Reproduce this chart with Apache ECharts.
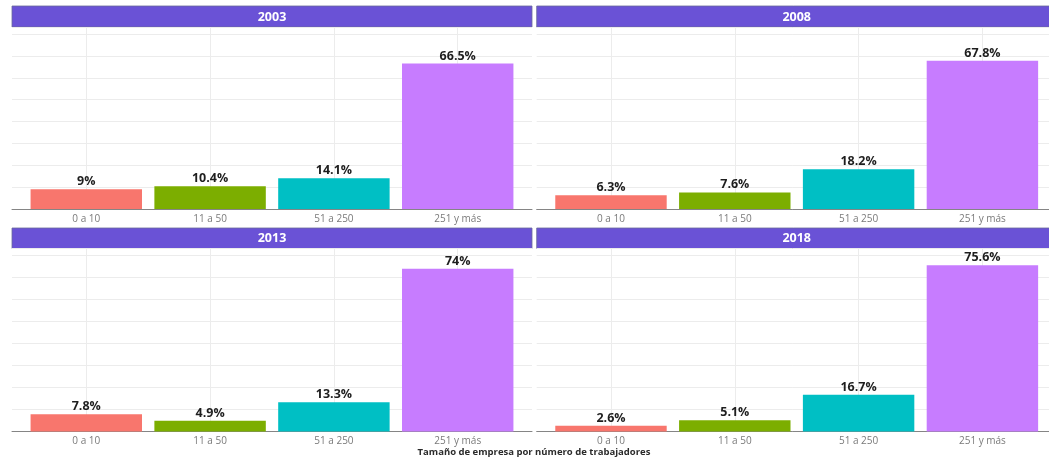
<!DOCTYPE html>
<html>
<head>
<meta charset="utf-8">
<script src="https://cdn.jsdelivr.net/npm/echarts@6/dist/echarts.min.js"></script>
<style>
html,body{margin:0;padding:0;background:#fff;}
#chart{width:1049px;height:460px;}
</style>
</head>
<body>
<div id="chart"></div>
<script>
// ---- data ----
const categories = ['0 a 10', '11 a 50', '51 a 250', '251 y más'];
const years = ['2003', '2008', '2013', '2018'];
const v2003 = [9, 10.4, 14.1, 66.5];
const v2008 = [6.3, 7.6, 18.2, 67.8];
const v2013 = [7.8, 4.9, 13.3, 74];
const v2018 = [2.6, 5.1, 16.7, 75.6];
const yTicks = [0, 10, 20, 30, 40, 50, 60, 70, 80];
const xTitle = 'Tamaño de empresa por número de trabajadores';
const seriesByYear = [v2003, v2008, v2013, v2018];

// ---- layout / style ----
const barColors = ['#F8766D', '#7CAE00', '#00BFC4', '#C77CFF'];
const FONT = 'Open Sans';
const W = 520;
const u = W / 4.2;
const YMAX = 83.2;
const panels = [
  { L: 12, T: 27, B: 209, sT: 6 },
  { L: 536.7, T: 27, B: 209, sT: 6 },
  { L: 12, T: 248.5, B: 431.5, sT: 228 },
  { L: 536.7, T: 248.5, B: 431.5, sT: 228 }
];

const grid = [], xAxis = [], yAxis = [], series = [], graphic = [];

panels.forEach((p, i) => {
  const H = p.B - p.T;
  grid.push({ left: p.L, top: p.T, width: W, height: H });
  grid.push({ left: p.L + 0.6 * u, top: p.T, width: 3 * u, height: H });
  grid.push({ left: p.L + 0.1 * u, top: p.T, width: 4 * u, height: H });
  const a = i * 3, b = i * 3 + 1, c = i * 3 + 2;

  xAxis.push({
    gridIndex: a, type: 'value', min: 0, max: 1,
    axisLine: { show: true, onZero: false, lineStyle: { color: '#858585', width: 1 } },
    axisTick: { show: false }, axisLabel: { show: false }, splitLine: { show: false }
  });
  yAxis.push({
    gridIndex: a, type: 'value', min: yTicks[0], max: YMAX, interval: yTicks[1] - yTicks[0],
    axisLine: { show: false }, axisTick: { show: false }, axisLabel: { show: false },
    splitLine: { show: true, lineStyle: { color: '#ececec', width: 1 } }
  });

  xAxis.push({
    gridIndex: b, type: 'category', data: categories, boundaryGap: false,
    axisLine: { show: false }, axisTick: { show: false }, axisLabel: { show: false },
    splitLine: { show: true, lineStyle: { color: '#ececec', width: 1 } }
  });
  yAxis.push({
    gridIndex: b, type: 'value', min: 0, max: YMAX, show: false, splitLine: { show: false }
  });

  xAxis.push({
    gridIndex: c, type: 'category', data: categories, boundaryGap: true,
    axisLine: { show: false }, axisTick: { show: false },
    axisLabel: { show: true, color: '#7a7a7a', fontSize: 10, fontFamily: FONT, margin: 5 },
    splitLine: { show: false }
  });
  yAxis.push({
    gridIndex: c, type: 'value', min: 0, max: YMAX, show: false, splitLine: { show: false }
  });

  series.push({
    type: 'bar', xAxisIndex: c, yAxisIndex: c, barWidth: '90%',
    data: seriesByYear[i].map((v, k) => ({ value: v, itemStyle: { color: barColors[k] } })),
    label: {
      show: true, position: 'top', distance: 1,
      formatter: (d) => d.value + '%',
      color: '#1e1e1e', fontWeight: 'bold', fontSize: 12.5, fontFamily: FONT
    },
    silent: true, animation: false
  });

  const sH = p.T - p.sT;
  graphic.push({
    type: 'rect', shape: { x: p.L, y: p.sT, width: W, height: sH },
    style: { fill: '#6A52D6', stroke: '#6a6a9a', lineWidth: 0.8 }, silent: true
  });
  graphic.push({
    type: 'text', x: p.L + W / 2, y: p.sT + sH / 2 + 0.5,
    style: { text: years[i], fill: '#ffffff', font: 'bold 12.5px "' + FONT + '"',
      textAlign: 'center', textVerticalAlign: 'middle' }, silent: true
  });
});

graphic.push({
  type: 'text', x: 534, y: 452,
  style: { text: xTitle, fill: '#2b2b2b', font: 'bold 9.5px "' + FONT + '"',
    textAlign: 'center', textVerticalAlign: 'middle' }, silent: true
});

const chart = echarts.init(document.getElementById('chart'), null, { renderer: 'canvas' });
chart.setOption({
  animation: false,
  backgroundColor: '#ffffff',
  grid, xAxis, yAxis, series, graphic
});
</script>
</body>
</html>
